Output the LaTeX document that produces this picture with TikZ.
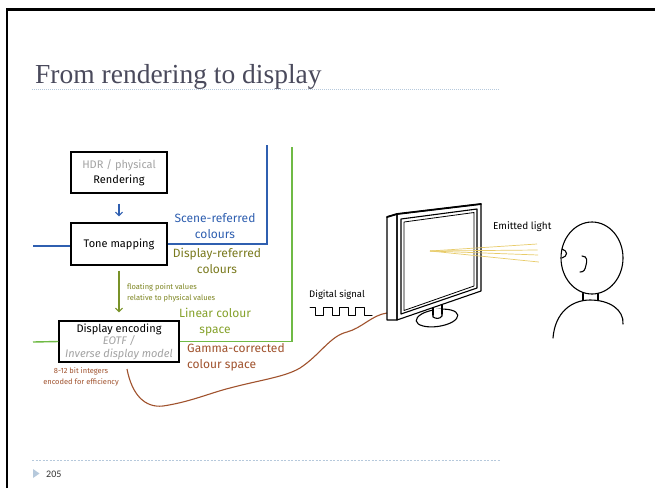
\documentclass[tikz,border=0pt]{standalone}
\usepackage{fontspec}
\setmainfont{Liberation Serif}
\newfontfamily\handfont{Fira Sans}
\newfontfamily\slidefont{Carlito}
\usetikzlibrary{arrows.meta}

\definecolor{scenecol}{HTML}{2F5FB0}
\definecolor{dispcol}{HTML}{7A7A1E}
\definecolor{linecol}{HTML}{6FBA45}
\definecolor{lintext}{HTML}{86A22C}
\definecolor{gammacol}{HTML}{A0522D}
\definecolor{softgray}{HTML}{A3A3A3}
\definecolor{titlecol}{HTML}{4A4A5C}
\definecolor{rulecol}{HTML}{B6C9DC}
\definecolor{raycol}{HTML}{E8CC6A}

\begin{document}
\begin{tikzpicture}[x=1pt, y=-1pt,
    box/.style={draw=black, line width=1.2pt, fill=white, align=center, inner sep=2pt,
      font=\handfont\fontsize{11}{12.5}\selectfont},
    lbl/.style={align=center, inner sep=0pt, font=\handfont\fontsize{12}{16}\selectfont},
    small/.style={inner sep=0pt, font=\handfont\fontsize{7.5}{11}\selectfont},
    sketch/.style={draw=black, line width=1.1pt, line join=round, line cap=round},
    tip/.style={-{Straight Barb[length=3.5pt, width=7pt]}, line width=1.1pt}]
  \useasboundingbox (0,0) rectangle (655,488);
  \fill[white] (0,0) rectangle (655,488);

  % slide frame, title and footer
  \draw[black, line width=2.5pt] (7,488) -- (7,9.5) -- (655,9.5);
  \node[anchor=base west, inner sep=0, text=titlecol, font=\fontsize{27.5}{30}\selectfont] (title) at (35,83) {From rendering to display};
  \draw[rulecol, line width=0.7pt, dash pattern=on 1pt off 1pt] (32,89) -- (500,89);
  \draw[rulecol, line width=0.7pt, dash pattern=on 2pt off 1.5pt] (32,460) -- (500,460);
  \fill[rulecol] (33,469) -- (39.5,473.5) -- (33,478) -- cycle;
  \node[anchor=west, inner sep=0, text=black!80, font=\slidefont\fontsize{10}{12}\selectfont] (page) at (46,474) {205};

  % processing stages
  \node[box, minimum width=96pt, minimum height=41pt, font=\handfont\fontsize{11}{15.5}\selectfont] (render) at (119,172.5) {{\color{softgray}HDR / physical}\\Rendering};
  \node[box, minimum width=96pt, minimum height=42pt] (tone) at (119,244) {Tone mapping};
  \node[box, minimum width=120pt, minimum height=41pt] (encode) at (119,341.5) {Display encoding\\{\color{softgray}\itshape EOTF /}\\{\color{softgray}\itshape Inverse display model}};

  \draw[scenecol, tip, shorten <=10pt, shorten >=6pt] (render) -- (tone);
  \draw[lintext!90!black, tip, shorten <=5pt, shorten >=8pt] (tone) -- (encode);

  % colour space wires
  \coordinate (blueL) at (33,246);
  \coordinate (blueTop) at (267,145);
  \coordinate (greenL) at (33,342);
  \coordinate (greenTop) at (292,147);
  \draw[scenecol, line width=1.1pt] (blueL) -- (blueL -| tone.west);
  \draw[scenecol, line width=1.1pt] (tone.east) -| (blueTop);
  \draw[linecol, line width=1.4pt] (greenL) -- (encode.west);
  \draw[linecol, line width=1.4pt] (encode.east) -| (greenTop);

  \node[lbl, text=scenecol] (scene) at (215,226) {Scene-referred\\colours};
  \node[lbl, text=dispcol] (disp) at (217,260.5) {Display-referred\\colours};
  \node[small, anchor=north west, align=left, text=dispcol!70!lintext] (float) at (127,283) {floating point values\\relative to physical values};
  \node[lbl, text=lintext] (linear) at (215,322) {Linear colour\\space};
  \node[lbl, anchor=west, align=left, text=gammacol] (gamma) at (187,357) {Gamma-corrected\\colour space};
  \node[small, align=center, text=gammacol] (ints) at (81,377) {8-12 bit integers\\encoded for efficiency};

  % cable to the monitor
  \coordinate (cable) at (127,369);
  \coordinate (plug) at (387,313);
  \draw[gammacol, line width=1.1pt] (cable) .. controls (132,395) and (145,408) .. (163,406)
    .. controls (190,402) and (210,393) .. (230,388)
    .. controls (260,380) and (285,377) .. (300,368)
    .. controls (320,355) and (330,336) .. (347,332)
    .. controls (362,328) and (372,315) .. (plug);

  % digital signal
  \node[anchor=west, inner sep=0, font=\handfont\fontsize{9.5}{11}\selectfont] (digital) at (309,295) {Digital signal};
  \draw[sketch, line width=1pt] (310,307) -- (315,307) -- (315,315)
    \foreach \x in {323,339,355} {-- (\x,315) -- (\x,307) -- (\x+9,307) -- (\x+9,315)} -- (372,315);

  % monitor
  \draw[sketch] (387,217) -- (397,214) -- (397,320) -- (387,320) -- cycle;
  \draw[sketch] (397,214) -- (481,204) -- (481,291) -- (397,320) -- cycle;
  \draw[sketch, line width=1.8pt] (387,217) -- (397,214) -- (481,204);
  \draw[sketch] (401,219) -- (477,209) -- (477,288) -- (401,314) -- cycle;
  \draw[sketch, line width=0.8pt] (404,222) -- (474,212.5) -- (474,286) -- (404,310.5) -- cycle;
  \draw[sketch] (433,308) -- (433,315);
  \draw[sketch] (442,305) -- (442,314);
  \draw[sketch, rotate around={8:(437,318)}] (437,318) ellipse (21 and 8.5);
  \fill[white] (433.6,309) rectangle (441.4,317);
  \draw[sketch] (433,308) -- (433,317) .. controls (436,319) and (440,319) .. (442,316) -- (442,305);

  % light rays
  \coordinate (glow) at (430,251);
  \foreach \ey in {244,250,255,262}
    \draw[raycol, line width=0.7pt] (glow) -- (537+\ey/10-24.4,\ey);
  \node[anchor=west, inner sep=0, font=\handfont\fontsize{10}{12}\selectfont] (emit) at (493,227) {Emitted light};

  % viewer
  \draw[sketch] (592,258) ellipse (31 and 36);
  \draw[sketch] (562,249) .. controls (568,251) and (568,256) .. (562,258);
  \draw[sketch] (582,256) .. controls (588,256) and (587,262) .. (586,265) .. controls (585,270) and (584,272) .. (580,272);
  \draw[sketch] (583,293.5) -- (583,300.5);
  \draw[sketch] (598,293.5) -- (598,300.5);
  \draw[sketch] (553,338) .. controls (555,312) and (572,300) .. (590,300) .. controls (610,300) and (624,310) .. (623,324);
\end{tikzpicture}
\end{document}
